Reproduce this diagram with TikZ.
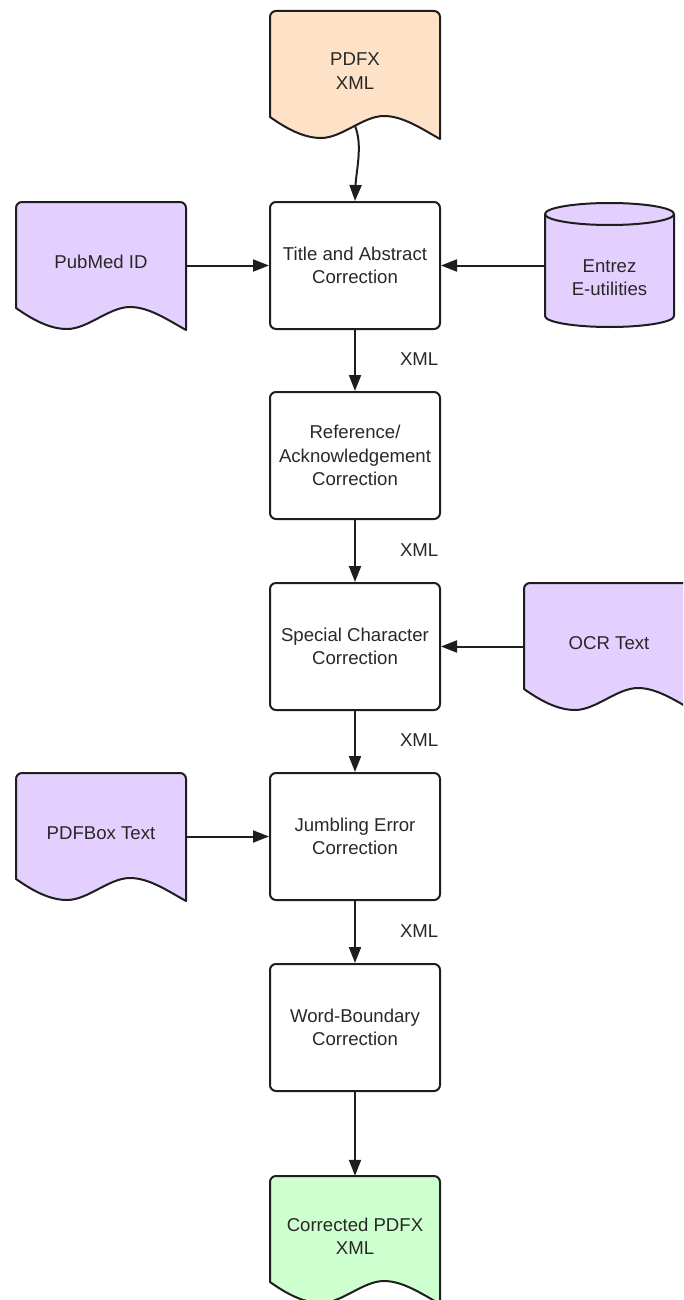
\documentclass[tikz,border=0pt]{standalone}
\usepackage{fontspec}
\setmainfont{Liberation Sans}
\usetikzlibrary{arrows.meta}
\definecolor{peach}{RGB}{254,226,200}
\definecolor{lav}{RGB}{228,208,255}
\definecolor{mint}{RGB}{206,255,206}
\definecolor{ink}{RGB}{30,30,30}
\definecolor{txt}{RGB}{40,40,40}
\newcommand{\mydoc}[3]{%
  \draw[shapeline,fill=#1,shift={(#2,#3)}]
    (0,106) -- (0,6) .. controls (0,2.7) and (2.7,0) .. (6,0)
    -- (164,0) .. controls (167.3,0) and (170,2.7) .. (170,6)
    -- (170,128) .. controls (152,118) and (133,105) .. (114,105)
    .. controls (93,105) and (72,127) .. (51,127)
    .. controls (34,127) and (17,118) .. (0,106) -- cycle;}
\begin{document}
\begin{tikzpicture}[x=1pt,y=-1pt,
  every node/.style={font=\fontsize{18.6}{23.3}\selectfont, align=center, text=txt},
  proc/.style={draw=ink, line width=2pt, rounded corners=6pt, minimum width=170pt, minimum height=127pt, inner sep=0pt},
  doctext/.style={minimum width=170pt, minimum height=120pt, inner sep=0pt},
  shapeline/.style={draw=ink, line width=2pt, line join=round},
  arr/.style={draw=ink, line width=2pt, -{Triangle[length=16pt,width=12pt]}},
  xml/.style={anchor=west, xshift=44pt, yshift=1pt, inner sep=0pt}]
\useasboundingbox (0,0) rectangle (683,1300);
\clip (0,0) rectangle (683,1300);

% document shapes
\mydoc{peach}{270}{11}
\mydoc{lav}{16}{202}
\mydoc{lav}{524}{583}
\mydoc{lav}{16}{773}
\mydoc{mint}{270}{1176}

% cylinder
\path[fill=lav] (545,214) -- (545,316) .. controls (545,322.08) and (573.9,327) .. (609.5,327)
  .. controls (645.1,327) and (674,322.08) .. (674,316) -- (674,214) -- cycle;
\draw[shapeline] (545,214) -- (545,316) .. controls (545,322.08) and (573.9,327) .. (609.5,327)
  .. controls (645.1,327) and (674,322.08) .. (674,316) -- (674,214);
\draw[shapeline,fill=lav] (609.5,214) ellipse [x radius=64.5, y radius=11];

% texts of data shapes
\node[doctext] (pdfx) at (355,71) {PDFX\\XML};
\coordinate (pdfxwave) at (355,126);
\node[doctext] (pubmed) at (101,262) {PubMed ID};
\node[minimum width=129pt, inner sep=0pt] (entrez) at (609.5,277.5) {Entrez\\E-utilities};
\node[doctext] (ocr) at (609,643) {OCR Text};
\node[doctext] (pdfbox) at (101,833) {PDFBox Text};
\node[doctext] (corr) at (355,1236) {Corrected PDFX\\XML};

% process boxes
\node[proc] (t1) at (355,265.5) {Title and Abstract\\Correction};
\node[proc] (t2) at (355,455.5) {Reference/\\Acknowledgement\\Correction};
\node[proc] (t3) at (355,646.5) {Special Character\\Correction};
\node[proc] (t4) at (355,836.5) {Jumbling Error\\Correction};
\node[proc] (t5) at (355,1027.5) {Word-Boundary\\Correction};

% connectors
\draw[arr] (pdfxwave) .. controls (363,145) and (356,172) .. (t1.north);
\draw[arr] (pubmed.east |- t1) -- (t1);
\draw[arr] (entrez.west |- t1) -- (t1);
\draw[arr] (t1) -- node[xml] {XML} (t2);
\draw[arr] (t2) -- node[xml] {XML} (t3);
\draw[arr] (ocr.west |- t3) -- (t3);
\draw[arr] (t3) -- node[xml] {XML} (t4);
\draw[arr] (pdfbox.east |- t4) -- (t4);
\draw[arr] (t4) -- node[xml] {XML} (t5);
\draw[arr] (t5) -- (corr.north);
\end{tikzpicture}
\end{document}
